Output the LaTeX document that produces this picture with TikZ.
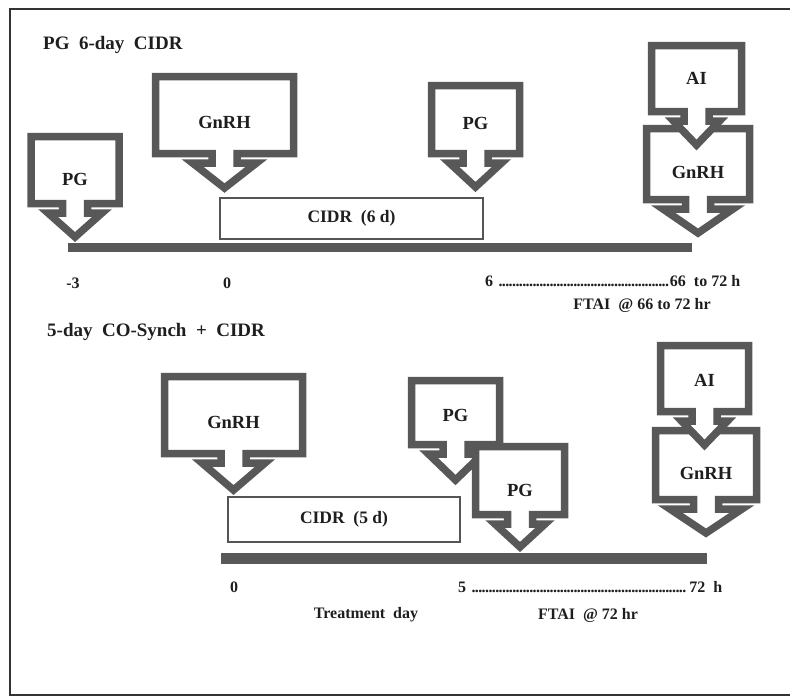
\documentclass[tikz,border=0pt]{standalone}
\usepackage{fontspec}
\setmainfont{Liberation Serif}
\definecolor{ink}{HTML}{1E1E1E}
\definecolor{outl}{HTML}{585858}
\definecolor{boxline}{HTML}{555555}
\newcommand\dotrun{\leaders\hbox to 3.4pt{\hss.\hss}\hfill}
\newcommand\callout[9]{%
 \pgfmathsetmacro\coL{#2-#5+3.5}%
 \pgfmathsetmacro\coR{#2+#5-3.5}%
 \pgfmathsetmacro\coT{#3+3.5}%
 \pgfmathsetmacro\coB{#4-3.5}%
 \pgfmathsetmacro\coSL{#2-12.5}%
 \pgfmathsetmacro\coSR{#2+12.5}%
 \pgfmathsetmacro\coHB{#4+6}%
 \pgfmathsetmacro\coHL{#2-#6+5}%
 \pgfmathsetmacro\coHR{#2+#6-5}%
 \pgfmathsetmacro\coTY{#7-5}%
 \draw[callshape] (\coL,\coT) -- (\coR,\coT) -- (\coR,\coB) -- (\coSR,\coB) -- (\coSR,\coHB) -- (\coHR,\coHB) -- (#2,\coTY) -- (\coHL,\coHB) -- (\coSL,\coHB) -- (\coSL,\coB) -- (\coL,\coB) -- cycle;
 \node[boxtext] (#1) at (#2,#9) {#8};
}
\begin{document}
\begin{tikzpicture}[x=1pt,y=-1pt,
  callshape/.style={draw=outl,fill=white,line width=7.5pt,line join=miter,miter limit=10},
  boxtext/.style={text=ink,font=\fontsize{18.5}{20}\selectfont\bfseries,inner sep=0pt},
  titletext/.style={text=ink,font=\fontsize{19}{21}\selectfont\bfseries,inner sep=0pt,anchor=west},
  labeltext/.style={text=ink,font=\fontsize{16}{18}\selectfont\bfseries,inner sep=0pt},
  cidrbox/.style={draw=boxline,line width=1.3pt,fill=white,text=ink,font=\fontsize{17.5}{19}\selectfont\bfseries,inner sep=0pt},
  timebar/.style={fill=outl},
  framestyle/.style={draw=black!80,line width=1.5pt}]
\useasboundingbox (0,0) rectangle (790,697);
% frame
\draw[framestyle] (792,9) -- (10,9) -- (10,695) -- (792,695);

% ---------- top protocol ----------
\node[titletext] (title1) at (43,45) {PG\ \ 6-day\ \ CIDR};
\node[cidrbox,minimum width=263pt,minimum height=41pt] (cidr6) at (351.5,218.5) {CIDR\ \ (6\ d)};
\path[timebar] (68,243) rectangle (692,252);
\callout{pga}{75}{133}{207}{47.5}{32}{242}{PG}{179}
\callout{gnrha}{224.5}{73}{157}{72.5}{37}{193}{GnRH}{122}
\callout{pgb}{475.5}{82}{157}{47.5}{31}{192}{PG}{123}
\callout{gnrhb}{698}{125}{203}{55}{40}{238}{GnRH}{172}
\callout{aia}{696.5}{42}{115}{48.5}{28}{150}{AI}{78}
\node[labeltext] (tm3) at (73,283) {-3};
\node[labeltext] (t0a) at (227,283) {0};
\node[labeltext,anchor=west] (t6) at (485,281) {\hbox to 255pt{6\,\dotrun66\ \ to 72 h}};
\node[labeltext] (ftai1) at (642,305) {FTAI\ \ @ 66 to 72 hr};

% ---------- bottom protocol ----------
\node[titletext] (title2) at (47,332) {5-day\ \ CO-Synch\ \ +\ \ CIDR};
\node[cidrbox,minimum width=232pt,minimum height=45pt] (cidr5) at (344,519.5) {CIDR\ \ (5\ d)};
\path[timebar] (221,553) rectangle (707,564);
\callout{gnrhc}{233.5}{373}{457}{72.5}{36.5}{495}{GnRH}{422}
\callout{pgc}{455.5}{377}{448}{47.5}{32}{485}{PG}{415}
\callout{pgd}{520}{443}{518}{48}{30}{552}{PG}{490}
\callout{gnrhd}{706}{427}{503}{54}{41}{538}{GnRH}{473}
\callout{aib}{704.5}{342}{415}{47.5}{28}{450}{AI}{380}
\node[labeltext] (t0b) at (234,587) {0};
\node[labeltext,anchor=west] (t5) at (458,587) {\hbox to 264pt{5\,\dotrun72\ \ h}};
\node[labeltext] (tday) at (366,615) {Treatment\ \ day};
\node[labeltext] (ftai2) at (588,615) {FTAI\ \ @ 72 hr};
\end{tikzpicture}
\end{document}
